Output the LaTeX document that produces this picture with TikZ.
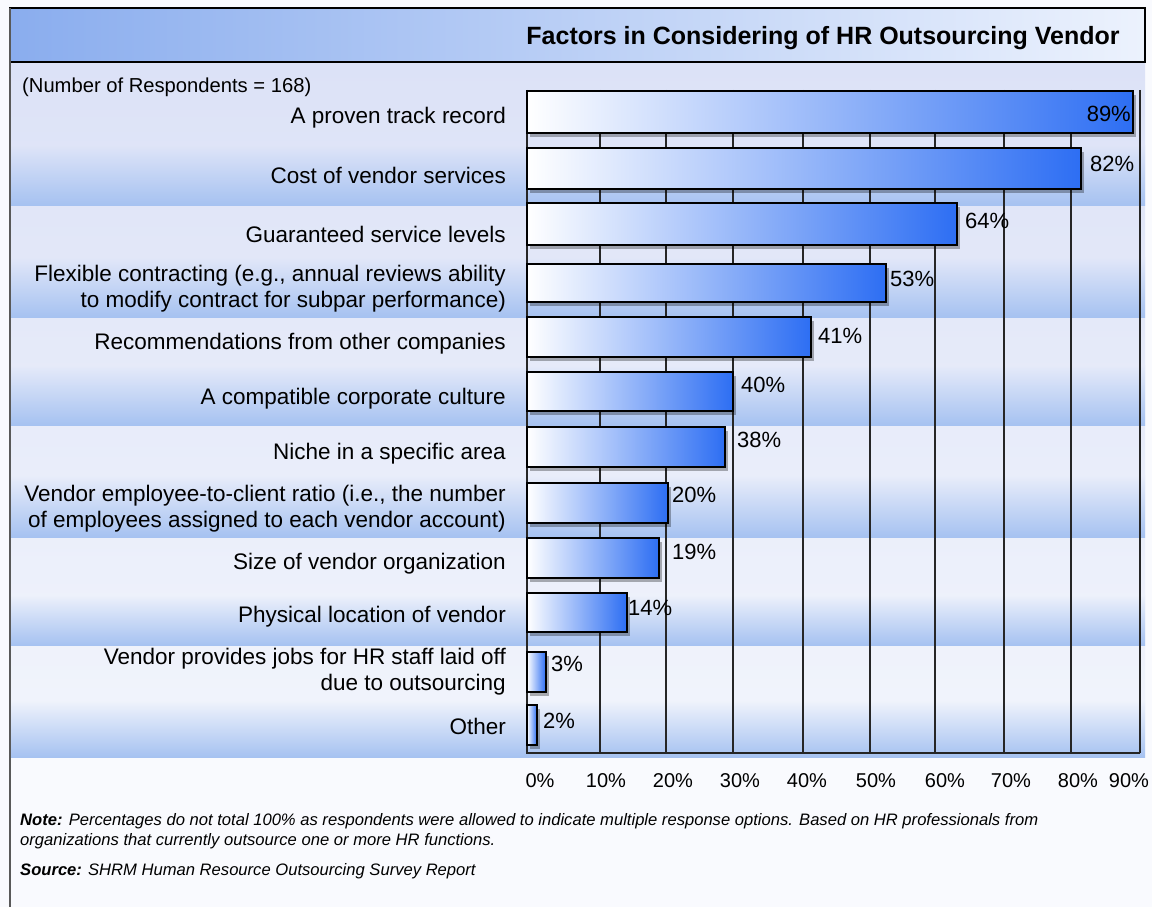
\documentclass[tikz,border=0pt]{standalone}
\usepackage{fontspec}
\setmainfont{Liberation Sans}
\usepackage{tikz}
\usetikzlibrary{shadows}

\definecolor{titleblue}{HTML}{8AADEE}
\definecolor{titlelight}{HTML}{ECF2FD}
\definecolor{bgtop}{HTML}{DCE2F7}
\definecolor{bgbot}{HTML}{F2F5FC}
\definecolor{bandblue}{HTML}{A6C2F1}
\definecolor{barblue}{HTML}{2D6EF3}
\definecolor{paper}{HTML}{F9FAFE}

\begin{document}
\begin{tikzpicture}[x=1pt,y=-1pt,every node/.style={inner sep=0pt},
  factor/.style={anchor=east,align=right,font=\fontsize{22.5}{26}\selectfont},
  pct/.style={anchor=west,font=\fontsize{22}{25}\selectfont},
  tick/.style={font=\fontsize{20}{23}\selectfont},
  bar/.style={draw=black,line width=2pt,left color=white,right color=barblue,
    drop shadow={shadow xshift=3pt,shadow yshift=-4pt,opacity=0.3,fill=black}},
  gridline/.style={line width=2pt,black!85}]
  \useasboundingbox (0,0) rectangle (1152,907);
  \fill[paper] (0,0) rectangle (1152,907);

  % background and row bands
  \shade[top color=bgtop,bottom color=bgbot] (10,62) rectangle (1145,757);
  \shade[top color=bgbot!12!bgtop,bottom color=bandblue] (10,145) rectangle (1145,205);
  \shade[top color=bgbot!28!bgtop,bottom color=bandblue] (10,257) rectangle (1145,317);
  \shade[top color=bgbot!44!bgtop,bottom color=bandblue] (10,365) rectangle (1145,425);
  \shade[top color=bgbot!59!bgtop,bottom color=bandblue] (10,475) rectangle (1145,537);
  \shade[top color=bgbot!77!bgtop,bottom color=bandblue] (10,595) rectangle (1145,645);
  \shade[top color=bgbot!92!bgtop,bottom color=bandblue] (10,700) rectangle (1145,757);

  % title bar
  \shade[left color=titleblue,right color=titlelight] (10,8) rectangle (1145,62);
  \draw[line width=2.5pt] (10,8) rectangle (1145,62);
  \draw[line width=2pt,black!65] (10,8) -- (10,907);
  \node[font=\bfseries\fontsize{25}{28}\selectfont] (title) at (823,38)
    {Factors in Considering of HR Outsourcing Vendor};

  % grid
  \draw[gridline] (600,90) -- (600,753);
  \draw[gridline] (666,90) -- (666,753);
  \draw[gridline] (733,90) -- (733,753);
  \draw[gridline] (803,90) -- (803,753);
  \draw[gridline] (870,90) -- (870,753);
  \draw[gridline] (935,90) -- (935,753);
  \draw[gridline] (1004,90) -- (1004,753);
  \draw[gridline] (1071,90) -- (1071,753);
  \draw[gridline] (1140,90) -- (1140,753);
  \draw[gridline] (527,90) -- (527,753) -- (1140,753);

  % bars
  \draw[bar] (527,91) rectangle (1133,133);
  \draw[bar] (527,148) rectangle (1081,189);
  \draw[bar] (527,203) rectangle (957,245);
  \draw[bar] (527,264) rectangle (886,302);
  \draw[bar] (527,317) rectangle (811,357);
  \draw[bar] (527,372) rectangle (733,411);
  \draw[bar] (527,427) rectangle (725,467);
  \draw[bar] (527,483) rectangle (668,523);
  \draw[bar] (527,538) rectangle (659,578);
  \draw[bar] (527,593) rectangle (627,632);
  \draw[bar] (527,652) rectangle (546,692);
  \draw[bar] (527,705) rectangle (537,745);

  % values
  \node[pct,anchor=east] (v1) at (1131,114) {89\%};
  \node[pct] (v2) at (1090,164) {82\%};
  \node[pct] (v3) at (965,221) {64\%};
  \node[pct] (v4) at (890,279) {53\%};
  \node[pct] (v5) at (818,336) {41\%};
  \node[pct] (v6) at (741,385) {40\%};
  \node[pct] (v7) at (737,440) {38\%};
  \node[pct] (v8) at (672,495) {20\%};
  \node[pct] (v9) at (672,552) {19\%};
  \node[pct] (v10) at (628,608) {14\%};
  \node[pct] (v11) at (551,664) {3\%};
  \node[pct] (v12) at (543,721) {2\%};

  % factor labels
  \node[anchor=west,font=\fontsize{20.2}{23}\selectfont] (resp) at (22,87)
    {(Number of Respondents = 168)};
  \node[factor] (f1) at (506,118) {A proven track record};
  \node[factor] (f2) at (506,175) {Cost of vendor services};
  \node[factor] (f3) at (506,234) {Guaranteed service levels};
  \node[factor] (f4) at (506,289) {Flexible contracting (e.g., annual reviews ability\\
    to modify contract for subpar performance)};
  \node[factor] (f5) at (506,344) {Recommendations from other companies};
  \node[factor] (f6) at (506,399) {A compatible corporate culture};
  \node[factor] (f7) at (506,454) {Niche in a specific area};
  \node[factor] (f8) at (506,509) {Vendor employee-to-client ratio (i.e., the number\\
    of employees assigned to each vendor account)};
  \node[factor] (f9) at (506,564) {Size of vendor organization};
  \node[factor] (f10) at (506,617) {Physical location of vendor};
  \node[factor] (f11) at (506,672) {Vendor provides jobs for HR staff laid off\\
    due to outsourcing};
  \node[factor] (f12) at (506,726) {Other};

  % axis
  \node[tick] (t0) at (540,781) {0\%};
  \node[tick] (t10) at (606,781) {10\%};
  \node[tick] (t20) at (673,781) {20\%};
  \node[tick] (t30) at (740,781) {30\%};
  \node[tick] (t40) at (807,781) {40\%};
  \node[tick] (t50) at (876,781) {50\%};
  \node[tick] (t60) at (945,781) {60\%};
  \node[tick] (t70) at (1011,781) {70\%};
  \node[tick] (t80) at (1078,781) {80\%};
  \node[tick] (t90) at (1129,781) {90\%};

  % note and source
  \node[anchor=north west,align=left,font=\itshape\fontsize{16.6}{20}\selectfont] (note) at (20,813)
    {\textbf{Note:} Percentages do not total 100\% as respondents were allowed to indicate multiple response options. Based on HR professionals from\\
    organizations that currently outsource one or more HR functions.};
  \node[anchor=west,font=\itshape\fontsize{16.6}{20}\selectfont] (source) at (20,871)
    {\textbf{Source:} SHRM Human Resource Outsourcing Survey Report};
\end{tikzpicture}
\end{document}
